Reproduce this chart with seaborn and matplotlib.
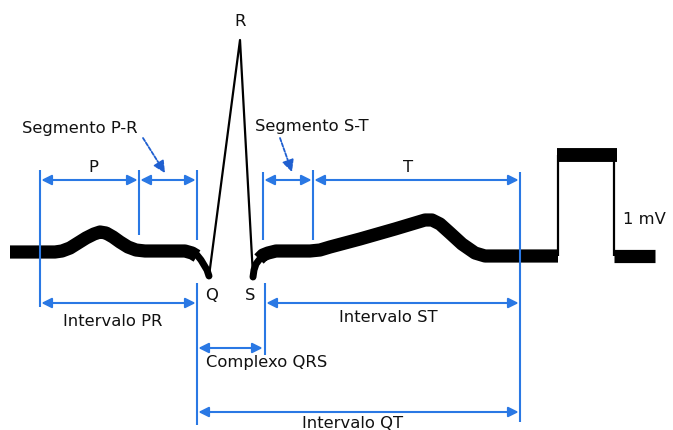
import matplotlib
matplotlib.use("Agg")
import matplotlib.pyplot as plt
import seaborn as sns

sns.set_theme(style="white")
plt.rcParams['font.family'] = ['DejaVu Sans']

# ECG trace (pixel-like coordinates of the diagram, y downward)
p_x = [10, 55, 62, 70, 78, 86, 94, 100, 106, 113, 120, 128, 136, 145, 170, 185, 192, 197]
p_y = [252, 252, 251, 248, 243, 238, 234, 232, 233, 237, 242, 247, 250, 251, 251, 251, 253, 256]
q_tail_x = [193, 197, 201, 204, 207, 209]
q_tail_y = [252, 255, 260, 265, 270, 276]
qrs_x = [209, 240, 253]
qrs_y = [276, 40, 276]
s_tail_x = [253, 254, 256, 259, 263]
s_tail_y = [277, 270, 264, 260, 256]
t_x = [259, 263, 268, 276, 290, 310, 320, 330, 360, 395, 415, 425, 432, 440, 450, 462, 475, 485, 495, 558]
t_y = [259, 255, 253, 251, 251, 251, 250, 247, 239, 229, 223, 220, 220, 224, 233, 244, 253, 256, 256, 256]
cal_top_x = [557, 617]
cal_top_y = [155, 155]
cal_up_x = [558, 558]
cal_up_y = [256, 155]
cal_down_x = [614, 614]
cal_down_y = [155, 256]
cal_end_x = [614, 655]
cal_end_y = [256, 256]

# blue guide lines: (x, y_top, y_bottom)
guide_x = [40, 139, 197, 263, 313, 520, 197, 265]
guide_top = [170, 170, 170, 172, 170, 172, 283, 283]
guide_bot = [307, 235, 240, 240, 240, 422, 425, 355]

# measurement arrows: (x0, x1, y)
arrow_x0 = [40, 139, 263, 313, 40, 265, 197, 197]
arrow_x1 = [139, 197, 313, 520, 197, 520, 264, 520]
arrow_y = [180, 180, 180, 180, 303, 303, 348, 412]

labels = ["P", "T", "R", "Q", "S", "Segmento P-R", "Segmento S-T",
          "Intervalo PR", "Intervalo ST", "Complexo QRS", "Intervalo QT", "1 mV"]
label_x = [93, 408, 240, 212, 250, 80, 312, 113, 388, 267, 353, 623]
label_y = [167, 167, 22, 295, 295, 129, 126, 321, 318, 363, 423, 220]
label_ha = ["center"] * 11 + ["left"]

fig = plt.figure(figsize=(6.73, 4.30), dpi=100)
ax = fig.add_axes([0, 0, 1, 1])
ax.set_xlim(0, 673)
ax.set_ylim(430, 0)
ax.axis("off")

thick = 9.5
blk = "black"
def seg(x, y, lw, cap="butt"):
    sns.lineplot(x=x, y=y, sort=False, estimator=None, color=blk, linewidth=lw, ax=ax,
                 solid_capstyle=cap, solid_joinstyle="round")

seg(p_x, p_y, thick)
seg(q_tail_x, q_tail_y, 5, "round")
seg(qrs_x, qrs_y, 1.6)
seg(s_tail_x, s_tail_y, 5, "round")
seg(t_x, t_y, thick)
seg(cal_up_x, cal_up_y, 1.6)
seg(cal_down_x, cal_down_y, 1.6)
seg(cal_top_x, cal_top_y, 10)
seg(cal_end_x, cal_end_y, thick)

blue = "#2a78e4"
ax.vlines(guide_x, guide_top, guide_bot, color=blue, linewidth=1.5)

for x0, x1, y in zip(arrow_x0, arrow_x1, arrow_y):
    ax.annotate("", xy=(x1, y), xytext=(x0, y),
                arrowprops=dict(arrowstyle="<|-|>,head_length=0.6,head_width=0.3",
                                mutation_scale=10, color=blue, lw=1.5,
                                shrinkA=1, shrinkB=1))

# pointers from segment labels
ax.annotate("", xy=(165, 173), xytext=(143, 138),
            arrowprops=dict(arrowstyle="-|>,head_length=0.7,head_width=0.35",
                            mutation_scale=10, color="#1f5fd0", lw=1.3,
                            linestyle=(0, (2, 1)), shrinkA=0, shrinkB=0))
ax.annotate("", xy=(292, 172), xytext=(280, 138),
            arrowprops=dict(arrowstyle="-|>,head_length=0.7,head_width=0.35",
                            mutation_scale=10, color="#1f5fd0", lw=1.3,
                            linestyle=(0, (2, 1)), shrinkA=0, shrinkB=0))

for t, x, y, ha in zip(labels, label_x, label_y, label_ha):
    ax.text(x, y, t, ha=ha, va="center", fontsize=11.8, color="#111111")

fig.savefig("out.png", dpi=100)
